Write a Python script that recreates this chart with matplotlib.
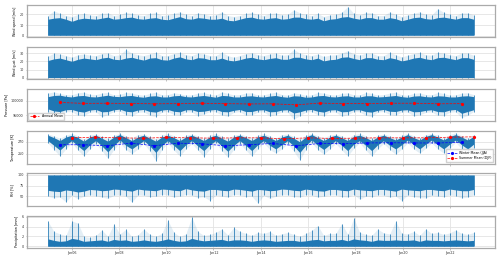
import matplotlib
matplotlib.use("Agg")
import matplotlib.pyplot as plt
import matplotlib.dates as mdates
from matplotlib.ticker import ScalarFormatter
import pandas as pd

# quarterly envelope readings, 2005-01 .. 2022-12 (72 points)
t = pd.date_range("2005-01-01", "2022-12-31", periods=72)

# wind speed [m/s]
ws_floor = 0.3
ws_core = [15.5, 16.5, 17, 15.5, 13.5, 15.5, 16.5, 16, 15.5, 16.5, 17.5, 15.5, 16, 17, 17.5, 16,
           15.5, 16.5, 17, 15.5, 15, 16.5, 18, 16, 15.5, 17, 16.5, 15.5, 15.5, 16.5, 14.5, 14,
           15.5, 17, 17.5, 16, 15.5, 16.5, 17, 15.5, 16, 17.5, 17.5, 16, 15.5, 16.5, 14, 15.5,
           16, 17.5, 18, 16.5, 15.5, 17, 17, 15.5, 15.5, 17, 16, 14, 15.5, 17, 17.5, 16,
           15.5, 17, 17.5, 16.5, 15.5, 17, 17, 15.5]
ws_peak = [19, 23.5, 21, 19, 18, 20, 21, 19.5, 19, 21, 21.5, 19, 20, 22, 21, 19.5,
           19, 21, 22, 19, 19.5, 21, 22.5, 20, 19, 21.5, 20.5, 19, 19.5, 22.5, 19, 18,
           19, 21, 22, 20, 19, 21, 21.5, 19.5, 20, 24.5, 21.5, 20, 19, 21, 18, 19.5,
           20, 22, 27.5, 21, 19.5, 22, 21.5, 19, 19, 22.5, 20, 18, 19.5, 21, 22.5, 20,
           19.5, 25.5, 22, 20, 19, 21.5, 21.5, 19.5]

# wind gust [m/s]
wg_floor = 0.3
wg_core = [21, 23, 24, 22, 20, 22.5, 24, 23, 22, 24, 25, 22.5, 22, 24, 25, 23,
           21.5, 24, 24.5, 22, 21.5, 24, 25.5, 23, 22, 24.5, 24, 22, 22, 24, 21.5, 20.5,
           22, 24, 25, 23, 22, 23.5, 24.5, 22.5, 22.5, 25, 25, 23, 22, 24, 20.5, 22,
           22.5, 25, 25.5, 23.5, 22, 24.5, 24.5, 22.5, 22, 24.5, 23, 20.5, 22, 24, 25, 23,
           22, 24.5, 25, 23.5, 22, 24.5, 24.5, 22.5]
wg_peak = [26, 30, 29, 27, 25, 28, 29, 27.5, 27, 29.5, 30, 27, 28, 34.5, 30, 28,
           27, 29, 31, 27, 27, 29.5, 31, 28, 27, 30, 29, 27, 27, 31, 27, 25,
           27, 29.5, 30.5, 28, 27, 29, 30, 27.5, 28, 34.5, 30, 28, 27, 29, 26, 27.5,
           28, 30, 33, 29, 27.5, 30, 30, 27, 27, 31, 28, 25.5, 27.5, 29.5, 31, 28,
           27.5, 31, 30, 28, 27, 30, 30, 27.5]

# pressure [Pa]
p_peak = [102500, 102900, 102400, 102000, 101900, 102600, 102800, 102100, 102000, 102500, 102700, 101900,
          102100, 102700, 102500, 102000, 101800, 102400, 102800, 101900, 102000, 102600, 102300, 101800,
          101900, 102500, 102700, 102100, 101800, 102900, 102400, 101900, 102000, 102500, 102600, 101800,
          101900, 102400, 102800, 102000, 101800, 102600, 102300, 101700, 101900, 102700, 102500, 102000,
          101800, 102400, 102600, 101900, 101900, 102700, 102400, 101800, 102000, 102500, 102800, 101900,
          101800, 102400, 102600, 102000, 101900, 102700, 102400, 101800, 101900, 102500, 102600, 102000]
p_core_hi = [101300, 101700, 101800, 101400, 101200, 101600, 101700, 101300, 101200, 101500, 101800, 101400,
             101300, 101600, 101700, 101300, 101100, 101500, 101600, 101200, 101200, 101600, 101700, 101300,
             101200, 101500, 101700, 101400, 101100, 101700, 101600, 101200, 101200, 101500, 101600, 101300,
             101200, 101500, 101700, 101300, 101100, 101600, 101500, 101100, 101200, 101600, 101700, 101300,
             101200, 101500, 101600, 101200, 101200, 101600, 101600, 101200, 101300, 101500, 101700, 101300,
             101100, 101500, 101600, 101300, 101200, 101600, 101500, 101200, 101200, 101500, 101600, 101300]
p_core_lo = [97200, 96500, 96300, 96900, 97000, 96400, 96100, 96800, 97000, 96200, 96300, 96900,
             97100, 96400, 96200, 96800, 97000, 96300, 96100, 96800, 97000, 96400, 96200, 96900,
             96900, 96300, 96400, 96800, 97000, 96300, 96200, 96700, 97000, 96300, 96300, 96800,
             96900, 96200, 96300, 96800, 96900, 95800, 96200, 96800, 97000, 96400, 96100, 96800,
             96900, 96200, 96300, 96900, 96900, 96300, 96100, 96700, 97000, 96400, 96300, 96800,
             96900, 96200, 96300, 96700, 96900, 96300, 96200, 96800, 97000, 95700, 96300, 96900]
p_trough = [96000, 95200, 95500, 96200, 96300, 95000, 94900, 96100, 96200, 94500, 95300, 96300,
            96400, 95200, 94800, 96000, 96200, 95000, 94600, 96100, 96300, 95300, 95000, 96200,
            96100, 94900, 95400, 96300, 96200, 95100, 94700, 96000, 96300, 95000, 95200, 96100,
            96200, 94800, 95300, 96200, 96000, 93700, 94900, 96100, 96300, 95200, 94800, 96200,
            96100, 94700, 95200, 96300, 96200, 95000, 94600, 96100, 96300, 95300, 95000, 96200,
            96100, 94800, 95200, 96000, 96200, 95000, 94900, 96100, 96200, 94250, 95000, 96300]
annual_years = pd.date_range("2005-07-01", periods=18, freq="12MS")
p_annual = [99350, 99050, 99100, 99000, 98900, 98950, 99100, 98950, 98850,
            98900, 98550, 99150, 98950, 98950, 99100, 99100, 98900, 98950]

# temperature [K]
tk_peak = [283, 280, 276, 281, 284, 280, 275, 281, 283, 279, 276, 281,
           284, 280, 277, 282, 283, 279, 275, 281, 284, 280, 276, 281,
           283, 280, 276, 281, 284, 279, 276, 281, 283, 280, 277, 281,
           284, 280, 276, 282, 283, 279, 275, 281, 284, 280, 277, 281,
           283, 280, 276, 282, 284, 280, 276, 281, 283, 280, 277, 281,
           284, 280, 277, 282, 284, 281, 277, 282, 285, 280, 277, 282]
tk_core_hi = [281, 277, 272, 278, 281, 277, 271, 278, 281, 276, 271, 278,
              282, 277, 272, 278, 281, 276, 271, 278, 281, 277, 272, 278,
              281, 277, 272, 278, 281, 276, 271, 278, 281, 277, 272, 278,
              281, 277, 272, 278, 281, 276, 270, 278, 282, 277, 272, 278,
              281, 277, 272, 279, 281, 277, 272, 278, 281, 277, 273, 278,
              282, 277, 273, 279, 282, 278, 273, 279, 282, 278, 273, 279]
tk_core_lo = [272, 264, 256, 265, 272, 263, 255, 265, 272, 263, 253, 264,
              273, 264, 258, 265, 272, 263, 252, 264, 272, 264, 255, 265,
              272, 263, 255, 265, 272, 263, 254, 264, 272, 264, 255, 265,
              272, 264, 258, 265, 272, 263, 252, 264, 273, 264, 257, 265,
              272, 264, 255, 266, 272, 264, 255, 265, 272, 264, 258, 265,
              273, 265, 258, 266, 273, 265, 258, 266, 273, 265, 258, 266]
tk_trough = [268, 257, 246, 258, 268, 256, 246, 258, 267, 255, 242, 257,
             268, 257, 250, 258, 267, 254, 238, 257, 268, 256, 246, 258,
             267, 256, 245, 258, 268, 255, 244, 257, 267, 256, 246, 258,
             268, 257, 251, 258, 267, 254, 239, 257, 268, 257, 249, 258,
             267, 256, 246, 259, 268, 256, 246, 258, 267, 257, 249, 258,
             268, 258, 251, 259, 268, 258, 251, 259, 269, 258, 251, 259]
winter_years = pd.date_range("2005-07-01", periods=18, freq="12MS")
tk_winter = [265, 265, 263.3, 267.7, 263.3, 267.7, 266.7, 263.3, 265,
             267.2, 263.3, 267.2, 266.7, 268, 268.3, 268, 268, 269]
summer_years = pd.date_range("2006-01-01", periods=18, freq="12MS")
tk_summer = [276.6, 277.7, 276.6, 276, 277.2, 276.6, 276.1, 276.6, 276.6,
             275, 276.6, 275.6, 276.1, 276.6, 276.6, 276.6, 277.7, 278.3]

# relative humidity [%]
rh_ceiling = 100
rh_core_lo = [64, 62, 61, 65, 63, 60, 62, 66, 65, 63, 64, 67,
              66, 64, 62, 67, 65, 64, 63, 67, 66, 64, 63, 68,
              65, 63, 62, 66, 66, 64, 63, 67, 66, 64, 62, 66,
              65, 63, 64, 67, 66, 64, 63, 67, 65, 63, 62, 66,
              66, 64, 63, 67, 65, 64, 63, 66, 66, 64, 62, 67,
              65, 64, 63, 66, 66, 64, 63, 67, 65, 63, 63, 66]
rh_trough = [50, 46, 48, 37, 52, 44, 50, 53, 51, 48, 45, 52,
             53, 50, 36, 53, 52, 49, 50, 54, 53, 48, 50, 54,
             52, 47, 49, 40, 53, 50, 48, 54, 53, 49, 50, 34,
             52, 45, 50, 53, 53, 49, 48, 54, 52, 48, 50, 53,
             53, 49, 48, 54, 43, 50, 49, 53, 52, 48, 50, 40,
             53, 49, 47, 46, 52, 50, 49, 53, 51, 46, 48, 53]

# precipitation [mm]
pr_floor = 0.0
pr_core = [1.5, 1.2, 1.0, 1.1, 1.6, 1.4, 1.0, 1.1, 1.2, 1.3, 1.0, 1.4,
           1.2, 1.3, 1.0, 1.1, 1.3, 1.1, 1.0, 1.2, 1.5, 1.2, 1.0, 1.1,
           1.6, 1.3, 1.1, 1.2, 1.3, 1.4, 1.1, 1.3, 1.3, 1.2, 1.0, 1.2,
           1.3, 1.2, 1.0, 1.1, 1.2, 1.2, 1.0, 1.1, 1.3, 1.4, 1.1, 1.2,
           1.2, 1.4, 1.1, 1.5, 1.3, 1.2, 1.0, 1.3, 1.2, 1.2, 1.3, 1.2,
           1.2, 1.3, 1.0, 1.3, 1.2, 1.2, 1.1, 1.2, 1.3, 1.2, 1.1, 1.2]
pr_peak = [5.1, 3.0, 2.5, 2.2, 5.1, 4.7, 2.0, 1.8, 2.2, 3.3, 2.0, 4.5,
           2.5, 3.4, 2.0, 2.3, 3.5, 2.4, 2.0, 2.6, 5.3, 2.8, 2.0, 2.5,
           5.9, 3.0, 2.2, 2.4, 2.8, 3.5, 2.3, 3.8, 3.0, 2.6, 2.2, 2.8,
           2.6, 3.0, 2.2, 2.5, 2.8, 2.4, 2.0, 2.6, 3.2, 4.2, 2.2, 2.6,
           2.6, 4.6, 2.4, 5.7, 2.8, 2.4, 2.2, 3.5, 2.7, 2.5, 5.1, 2.6,
           2.5, 3.0, 2.2, 3.5, 2.6, 2.8, 2.4, 2.7, 3.3, 2.6, 2.4, 2.8]

C0 = "#1f77b4"
plt.rcParams.update({
    "font.size": 2.4,
    "axes.edgecolor": "#aaaaaa",
    "axes.linewidth": 0.9,
    "grid.color": "#e3e3e3",
    "grid.linewidth": 0.6,
    "xtick.color": "#aaaaaa",
    "ytick.color": "#aaaaaa",
    "xtick.labelcolor": "#333333",
    "ytick.labelcolor": "#333333",
    "xtick.major.size": 1.5,
    "ytick.major.size": 1.0,
    "xtick.major.width": 0.5,
    "ytick.major.width": 0.5,
    "xtick.major.pad": 1,
    "ytick.major.pad": 1,
})

fig, axes = plt.subplots(6, 1, figsize=(5, 2.6), dpi=100, sharex=True)
fig.subplots_adjust(left=0.053, right=0.99, top=0.981, bottom=0.047, hspace=0.31)


def band(ax, lo, core_lo, core_hi, hi):
    # light spikes out to the extremes, solid core band on top
    ax.fill_between(t, lo, hi, color=C0, alpha=0.12, lw=0)
    ax.vlines(t, lo, hi, color=C0, lw=0.7, alpha=0.8)
    ax.fill_between(t, core_lo, core_hi, color=C0, lw=0)


band(axes[0], ws_floor, ws_floor, ws_core, ws_peak)
band(axes[1], wg_floor, wg_floor, wg_core, wg_peak)
band(axes[2], p_trough, p_core_lo, p_core_hi, p_peak)
band(axes[3], tk_trough, tk_core_lo, tk_core_hi, tk_peak)
band(axes[4], rh_trough, rh_core_lo, rh_ceiling, rh_ceiling)
band(axes[5], pr_floor, pr_floor, pr_core, pr_peak)

axes[2].plot(annual_years, p_annual, "r--o", lw=0.5, ms=1.3, label="Annual Mean")
axes[3].plot(winter_years, tk_winter, "b--o", lw=0.5, ms=1.3, label="Winter Mean (JJA)")
axes[3].plot(summer_years, tk_summer, "r--o", lw=0.5, ms=1.3, label="Summer Mean (DJF)")

labels = ["Wind speed [m/s]", "Wind gust [m/s]", "Pressure [Pa]",
          "Temperature [K]", "RH [%]", "Precipitation [mm]"]
ylims = [(-1.4, 29), (-1.8, 37.4), (93000, 103800), (233.5, 287.5), (28, 103.5), (-0.3, 6.2)]
yticks = [[0, 10, 20], [0, 10, 20, 30], [95000, 100000], [250, 270], [50, 75, 100], [0, 2, 4, 6]]

for ax, lab, yl, yt in zip(axes, labels, ylims, yticks):
    ax.set_ylabel(lab, labelpad=2)
    ax.set_ylim(yl)
    ax.set_yticks(yt)
    ax.grid(True)
    ax.set_axisbelow(True)

fmt = ScalarFormatter(useOffset=False)
fmt.set_scientific(False)
axes[2].yaxis.set_major_formatter(fmt)

axes[2].legend(loc="lower left", fontsize=2.3, framealpha=0.9, edgecolor="#cccccc",
               borderpad=0.5, handlelength=3)
axes[3].legend(loc="lower right", fontsize=2.3, framealpha=0.9, edgecolor="#cccccc",
               borderpad=0.5, handlelength=3)

axes[-1].xaxis.set_major_locator(mdates.YearLocator(2))
axes[-1].xaxis.set_major_formatter(mdates.DateFormatter("%b%y"))
axes[-1].set_xlim(pd.Timestamp("2004-02-06"), pd.Timestamp("2023-11-26"))

fig.savefig("out.png", dpi=100)
